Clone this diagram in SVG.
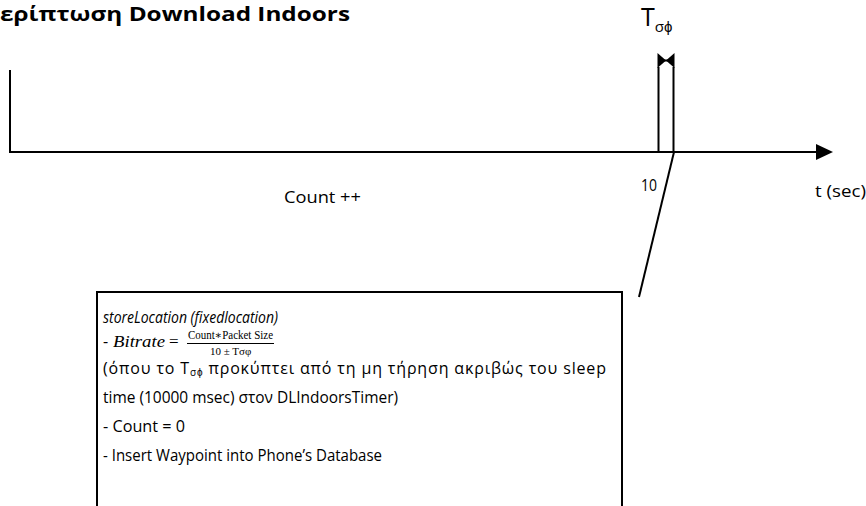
<svg xmlns="http://www.w3.org/2000/svg" width="866" height="506" viewBox="0 0 866 506">
  <style>
    .ln{stroke:#000;stroke-width:2;fill:none}
    .tx{font-family:"Open Sans","Liberation Sans",sans-serif;fill:#000}
    .body{font-size:16px}
    .it{font-style:italic}
    .mth{font-family:"Liberation Serif","DejaVu Serif",serif;fill:#000}
    .bold{font-weight:bold}
  </style>
  <defs>
    <marker id="arrowHead" markerUnits="userSpaceOnUse" markerWidth="18" markerHeight="16" refX="1" refY="8" orient="auto">
      <path d="M0,0 L17,8 L0,16 Z" fill="#000"/>
    </marker>
  </defs>

  <rect width="866" height="506" fill="#fff"/>

  <!-- heading -->
  <g id="title">
    <text class="tx bold" x="0" y="21" font-size="20" textLength="350" lengthAdjust="spacingAndGlyphs">ερίπτωση Download Indoors</text>
  </g>

  <!-- time axis -->
  <g id="timeline">
    <line class="ln" x1="10" y1="70" x2="10" y2="153"/>
    <line class="ln" x1="9" y1="152" x2="817" y2="152" marker-end="url(#arrowHead)"/>
    <text class="tx body" x="815" y="197" textLength="51" lengthAdjust="spacingAndGlyphs">t (sec)</text>
    <text class="tx body" x="641" y="191" textLength="16" lengthAdjust="spacingAndGlyphs">10</text>
    <text class="tx body" x="284" y="203" textLength="77" lengthAdjust="spacingAndGlyphs">Count ++</text>
  </g>

  <!-- sleep tolerance window -->
  <g id="tolerance">
    <line class="ln" x1="658.5" y1="67" x2="658.5" y2="152"/>
    <line class="ln" x1="673.5" y1="67" x2="673.5" y2="152"/>
    <polygon points="657.5,53 657.5,68 666,60.5" fill="#000"/>
    <polygon points="674.5,53 674.5,68 666,60.5" fill="#000"/>
    <line class="ln" x1="658" y1="60.5" x2="674" y2="60.5"/>
    <text class="tx" x="641" y="26" font-size="25">T<tspan font-size="15" dy="6">σϕ</tspan></text>
  </g>

  <!-- callout pointer -->
  <g id="connectors">
    <line class="ln" x1="674" y1="152" x2="639" y2="297"/>
  </g>

  <!-- action box -->
  <g id="actionBox">
    <path class="ln" d="M97,520 V292 H622 V520"/>
    <text class="tx body it" x="103" y="323" textLength="175" lengthAdjust="spacingAndGlyphs">storeLocation (fixedlocation)</text>
    <text class="tx body" x="103" y="347">- </text>
    <text class="mth it" x="113" y="347" font-size="17" textLength="52" lengthAdjust="spacingAndGlyphs">Bitrate</text>
    <text class="mth" x="169" y="347" font-size="17">=</text>
    <text class="mth" x="188" y="339" font-size="11.5" textLength="85" lengthAdjust="spacingAndGlyphs">Count∗Packet Size</text>
    <line x1="187" y1="343.5" x2="274" y2="343.5" stroke="#000" stroke-width="1"/>
    <text class="mth" x="210" y="355" font-size="11">10 ± Tσφ</text>
    <text class="tx body" x="103" y="374" textLength="503" lengthAdjust="spacing">(όπου το T<tspan font-size="10" dy="2">σϕ</tspan><tspan dy="-2"> προκύπτει από τη μη τήρηση ακριβώς του sleep</tspan></text>
    <text class="tx body" x="103" y="403" textLength="295" lengthAdjust="spacingAndGlyphs">time (10000 msec) στον DLIndoorsTimer)</text>
    <text class="tx body" x="103" y="432" textLength="82" lengthAdjust="spacingAndGlyphs">- Count = 0</text>
    <text class="tx body" x="103" y="461" textLength="279" lengthAdjust="spacingAndGlyphs">- Insert Waypoint into Phone’s Database</text>
  </g>
</svg>
